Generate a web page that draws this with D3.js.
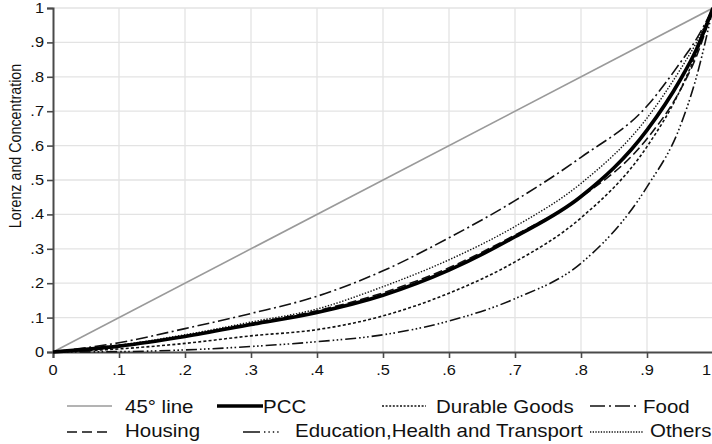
<!DOCTYPE html>
<html>
<head>
<meta charset="utf-8">
<script src="https://cdn.jsdelivr.net/npm/d3@7"></script>
<style>
  html, body { margin: 0; padding: 0; background: #fff; }
  svg { display: block; }
  text { font-family: "Liberation Sans", Arial, sans-serif; fill: #111; }
</style>
</head>
<body>
<svg id="chart" width="712" height="444"></svg>
<script>
// ---- data ----
const popShare = [0, 0.1, 0.2, 0.3, 0.4, 0.5, 0.6, 0.7, 0.8, 0.9, 0.95, 0.975, 1];
const pcc       = [0, 0.017, 0.045, 0.080, 0.115, 0.165, 0.238, 0.335, 0.452, 0.645, 0.790, 0.880, 1];
const food      = [0, 0.027, 0.068, 0.112, 0.162, 0.236, 0.332, 0.440, 0.566, 0.715, 0.840, 0.910, 1];
const housing   = [0, 0.018, 0.047, 0.083, 0.120, 0.172, 0.245, 0.340, 0.450, 0.620, 0.760, 0.860, 1];
const others    = [0, 0.020, 0.050, 0.087, 0.125, 0.190, 0.268, 0.365, 0.490, 0.680, 0.820, 0.900, 1];
const durable   = [0, 0.009, 0.025, 0.047, 0.065, 0.105, 0.171, 0.262, 0.390, 0.597, 0.760, 0.870, 1];
const education = [0, 0.001, 0.006, 0.016, 0.030, 0.050, 0.090, 0.155, 0.258, 0.480, 0.655, 0.800, 1];
const diagonal  = [0, 1];
const diagX     = [0, 1];
const tickValues = [0, 0.1, 0.2, 0.3, 0.4, 0.5, 0.6, 0.7, 0.8, 0.9, 1];
const tickLabels = ["0", ".1", ".2", ".3", ".4", ".5", ".6", ".7", ".8", ".9", "1"];
const yTitle = "Lorenz and Concentration";

// ---- layout ----
const svg = d3.select("#chart");
const x = d3.scaleLinear().domain([0, 1]).range([53, 713]);
const y = d3.scaleLinear().domain([0, 1]).range([352, 8]);
const SX = 1.17; // horizontal text stretch

// gridlines
const grid = svg.append("g");
grid.selectAll("line.v").data(tickValues.slice(1)).join("line")
  .attr("x1", d => x(d)).attr("x2", d => x(d))
  .attr("y1", y(0)).attr("y2", y(1))
  .attr("stroke", "#e3e3e3").attr("stroke-width", 1.3);
grid.selectAll("line.h").data(tickValues.slice(1)).join("line")
  .attr("x1", x(0)).attr("x2", x(1))
  .attr("y1", d => y(d)).attr("y2", d => y(d))
  .attr("stroke", "#e3e3e3").attr("stroke-width", 1.3);

// axes
const xAxis = d3.axisBottom(x).tickValues(tickValues).tickSize(6).tickFormat("");
const yAxis = d3.axisLeft(y).tickValues(tickValues).tickSize(6).tickFormat("");
const gx = svg.append("g").attr("transform", `translate(0,${y(0)})`).call(xAxis);
const gy = svg.append("g").attr("transform", `translate(${x(0)},0)`).call(yAxis);
[gx, gy].forEach(g => {
  g.select(".domain").attr("stroke", "#4a4a4a").attr("stroke-width", 2);
  g.selectAll(".tick line").attr("stroke", "#4a4a4a").attr("stroke-width", 1.6);
});

// tick labels
svg.append("g").selectAll("text").data(tickValues).join("text")
  .attr("transform", d => d === 1 ? `translate(711,375) scale(${SX},1)` : `translate(${x(d)},375) scale(${SX},1)`)
  .attr("text-anchor", d => d === 1 ? "end" : "middle")
  .attr("font-size", 14)
  .text((d, i) => tickLabels[i]);
svg.append("g").selectAll("text").data(tickValues).join("text")
  .attr("transform", d => `translate(44,${y(d)}) scale(${SX},1)`)
  .attr("text-anchor", "end")
  .attr("dy", "0.36em")
  .attr("font-size", 14)
  .text((d, i) => tickLabels[i]);

// y title
svg.append("text")
  .attr("transform", `translate(21,146) scale(${SX},1) rotate(-90)`)
  .attr("text-anchor", "middle")
  .attr("font-size", 14.3)
  .text(yTitle);

// series
const styles = {
  diag:      { stroke: "#9a9a9a", width: 1.6, dash: null },
  pcc:       { stroke: "#000", width: 3.6, dash: null },
  durable:   { stroke: "#111", width: 1.6, dash: "3,2.2" },
  food:      { stroke: "#111", width: 1.6, dash: "12,3.5,2,3.5" },
  housing:   { stroke: "#111", width: 1.6, dash: "9,4" },
  education: { stroke: "#111", width: 1.6, dash: "11,3,1.6,2.4,1.6,2.4,1.6,3" },
  others:    { stroke: "#111", width: 1.4, dash: "1.4,1.6" }
};
const line = d3.line().x(d => x(d[0])).y(d => y(d[1])).curve(d3.curveMonotoneX);
const zip = arr => popShare.map((p, i) => [p, arr[i]]);
const plot = svg.append("g");
function drawSeries(pts, st) {
  plot.append("path").datum(pts).attr("d", line)
    .attr("fill", "none").attr("stroke", st.stroke)
    .attr("stroke-width", st.width)
    .attr("stroke-dasharray", st.dash)
    .attr("stroke-linejoin", "round");
}
drawSeries(diagX.map((p, i) => [p, diagonal[i]]), styles.diag);
drawSeries(zip(education), styles.education);
drawSeries(zip(durable), styles.durable);
drawSeries(zip(food), styles.food);
drawSeries(zip(housing), styles.housing);
drawSeries(zip(others), styles.others);
drawSeries(zip(pcc), styles.pcc);

// legend
const legendItems = [
  { label: "45° line", st: styles.diag, x1: 67, x2: 112, tx: 125, row: 0 },
  { label: "PCC", st: styles.pcc, x1: 217, x2: 263, tx: 263, row: 0 },
  { label: "Durable Goods", st: { stroke: "#111", width: 1.4, dash: "2,1.6" }, x1: 382, x2: 426, tx: 436, row: 0 },
  { label: "Food", st: { stroke: "#111", width: 1.6, dash: "15,4,2,4" }, x1: 590, x2: 636, tx: 643, row: 0 },
  { label: "Housing", st: { stroke: "#111", width: 1.6, dash: "10,5" }, x1: 67, x2: 112, tx: 125, row: 1 },
  { label: "Education,Health and Transport", st: { stroke: "#111", width: 1.6, dash: "17,4,1.4,3,1.4,3,1.4,3,1.4,20" }, x1: 243, x2: 291, tx: 295, row: 1 },
  { label: "Others", st: { stroke: "#111", width: 1.3, dash: "1.3,1.4" }, x1: 590, x2: 643, tx: 650, row: 1 }
];
const rowLineY = [406, 432];
const rowTextY = [413, 437];
const lg = svg.append("g");
legendItems.forEach(it => {
  lg.append("line")
    .attr("x1", it.x1).attr("x2", it.x2)
    .attr("y1", rowLineY[it.row]).attr("y2", rowLineY[it.row])
    .attr("stroke", it.st.stroke).attr("stroke-width", it.st.width)
    .attr("stroke-dasharray", it.st.dash);
  lg.append("text")
    .attr("transform", `translate(${it.tx},${rowTextY[it.row]}) scale(${SX},1)`)
    .attr("font-size", 17.5)
    .text(it.label);
});
</script>
</body>
</html>
